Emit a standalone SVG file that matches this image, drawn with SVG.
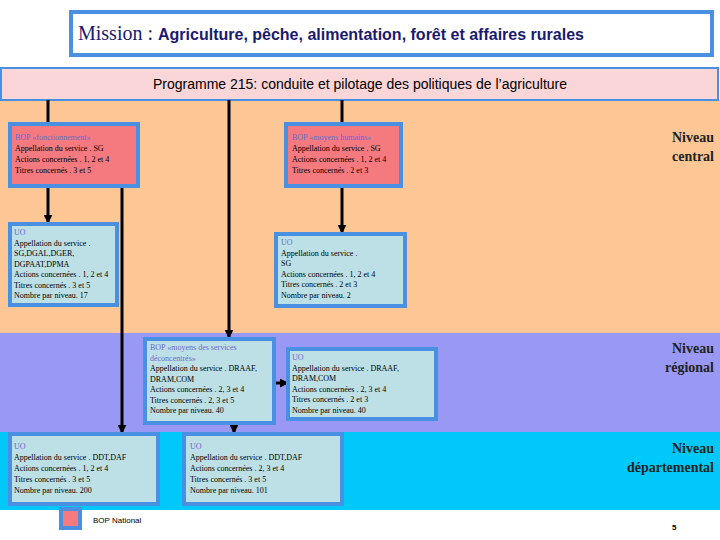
<svg xmlns="http://www.w3.org/2000/svg" width="720" height="540" viewBox="0 0 720 540">
<defs>
<style>
.b{stroke:#4a90e2;stroke-width:4}
.pk{fill:#f47a80}.cy{fill:#bde0e6}
.t{font-family:"Liberation Serif",serif;font-size:8px;fill:#000}
.h{fill:#6a6ad0}
.lv{font-family:"Liberation Serif",serif;font-size:14px;font-weight:bold;text-anchor:end;fill:#222}
.ln{stroke:#000;stroke-width:3;fill:none}
</style>
<marker id="a" viewBox="0 0 10 10" refX="8" refY="5" markerWidth="3" markerHeight="3" orient="auto"><path d="M0,0L10,5L0,10z" fill="#000"/></marker>
</defs>
<rect x="0" y="0" width="720" height="540" fill="#fff"/>
<rect x="0" y="100" width="720" height="233" fill="#fcc795"/>
<rect x="0" y="333" width="720" height="99" fill="#9999f5"/>
<rect x="0" y="432" width="720" height="78" fill="#00c8f8"/>
<g id="title"><rect x="71" y="12" width="641" height="43" fill="#fff" class="b"/>
<text x="78" y="40" font-family="Liberation Serif,serif" font-size="20" fill="#1a1a6e">Mission : <tspan font-family="Liberation Sans,sans-serif" font-size="16" font-weight="bold">Agriculture, pêche, alimentation, forêt et affaires rurales</tspan></text></g>
<g id="prog"><rect x="1" y="68" width="717" height="32" fill="#fbd6d8" stroke="#4a90e2" stroke-width="2"/>
<text x="360" y="89" text-anchor="middle" font-family="Liberation Sans,sans-serif" font-size="14">Programme 215: conduite et pilotage des politiques de l’agriculture</text></g>
<g id="connectors">
<path class="ln" d="M48,100V122"/><path class="ln" d="M342,100V122"/>
<path class="ln" d="M48,187V222" marker-end="url(#a)"/>
<path class="ln" d="M342,187V232" marker-end="url(#a)"/>
<path class="ln" d="M122,185V432" marker-end="url(#a)"/>
<path class="ln" d="M229,100V337" marker-end="url(#a)"/>
<path class="ln" d="M276,383H287" marker-end="url(#a)"/>
<path class="ln" d="M234,424V432" marker-end="url(#a)"/>
</g>
<g id="bop1"><rect x="10" y="124" width="128" height="62" class="b pk"/>
<text class="t" x="15" y="140"><tspan class="h">BOP «fonctionnement»</tspan><tspan x="15" dy="11">Appellation du service . SG</tspan><tspan x="15" dy="11">Actions concernées . 1, 2 et 4</tspan><tspan x="15" dy="11">Titres concernés . 3 et 5</tspan></text></g>
<g id="bop2"><rect x="286" y="124" width="115" height="62" class="b pk"/>
<text class="t" x="292" y="140"><tspan class="h">BOP «moyens humains»</tspan><tspan x="292" dy="11">Appellation du service . SG</tspan><tspan x="292" dy="11">Actions concernées . 1, 2 et 4</tspan><tspan x="292" dy="11">Titres concernés . 2 et 3</tspan></text></g>
<g id="uo1"><rect x="10" y="224" width="107" height="81" class="b cy"/>
<text class="t" x="14" y="235"><tspan class="h">UO</tspan><tspan x="14" dy="10.5">Appellation du service .</tspan><tspan x="14" dy="10.5">SG,DGAL,DGER,</tspan><tspan x="14" dy="10.5">DGPAAT,DPMA</tspan><tspan x="14" dy="10.5">Actions concernées . 1, 2 et 4</tspan><tspan x="14" dy="10.5">Titres concernés . 3 et 5</tspan><tspan x="14" dy="10.5">Nombre par niveau. 17</tspan></text></g>
<g id="uo2"><rect x="276" y="234" width="129" height="72" class="b cy"/>
<text class="t" x="281" y="245"><tspan class="h">UO</tspan><tspan x="281" dy="10.5">Appellation du service .</tspan><tspan x="281" dy="10.5">SG</tspan><tspan x="281" dy="10.5">Actions concernées . 1, 2 et 4</tspan><tspan x="281" dy="10.5">Titres concernés . 2 et 3</tspan><tspan x="281" dy="10.5">Nombre par niveau. 2</tspan></text></g>
<g id="bop3"><rect x="145" y="339" width="129" height="84" class="b cy"/>
<text class="t" x="150" y="350"><tspan class="h">BOP «moyens des services</tspan><tspan x="150" dy="10.5" class="h">déconcentrés»</tspan><tspan x="150" dy="10.5">Appellation du service . DRAAF,</tspan><tspan x="150" dy="10.5">DRAM,COM</tspan><tspan x="150" dy="10.5">Actions concernées . 2, 3 et 4</tspan><tspan x="150" dy="10.5">Titres concernés . 2, 3 et 5</tspan><tspan x="150" dy="10.5">Nombre par niveau. 40</tspan></text></g>
<g id="uo3"><rect x="288" y="349" width="148" height="70" class="b cy"/>
<text class="t" x="292" y="360"><tspan class="h">UO</tspan><tspan x="292" dy="10.5">Appellation du service . DRAAF,</tspan><tspan x="292" dy="10.5">DRAM,COM</tspan><tspan x="292" dy="10.5">Actions concernées . 2, 3 et 4</tspan><tspan x="292" dy="10.5">Titres concernés . 2 et 3</tspan><tspan x="292" dy="10.5">Nombre par niveau. 40</tspan></text></g>
<g id="uo4"><rect x="10" y="434" width="148" height="70" class="b cy"/>
<text class="t" x="14" y="449"><tspan class="h">UO</tspan><tspan x="14" dy="11">Appellation du service . DDT,DAF</tspan><tspan x="14" dy="11">Actions concernées . 1, 2 et 4</tspan><tspan x="14" dy="11">Titres concernés . 3 et 5</tspan><tspan x="14" dy="11">Nombre par niveau. 200</tspan></text></g>
<g id="uo5"><rect x="184" y="434" width="158" height="70" class="b cy"/>
<text class="t" x="190" y="449"><tspan class="h">UO</tspan><tspan x="190" dy="11">Appellation du service . DDT,DAF</tspan><tspan x="190" dy="11">Actions concernées . 2, 3 et 4</tspan><tspan x="190" dy="11">Titres concernés . 3 et 5</tspan><tspan x="190" dy="11">Nombre par niveau. 101</tspan></text></g>
<text class="lv" x="714" y="142">Niveau</text><text class="lv" x="714" y="161">central</text>
<text class="lv" x="714" y="353">Niveau</text><text class="lv" x="714" y="372">régional</text>
<text class="lv" x="714" y="453">Niveau</text><text class="lv" x="714" y="472">départemental</text>
<g id="legend"><rect x="61" y="509" width="19" height="19" class="b pk"/>
<text x="93" y="523" font-family="Liberation Sans,sans-serif" font-size="8">BOP National</text></g>
<text x="672" y="530" font-family="Liberation Sans,sans-serif" font-size="8" font-weight="bold">5</text>
</svg>
